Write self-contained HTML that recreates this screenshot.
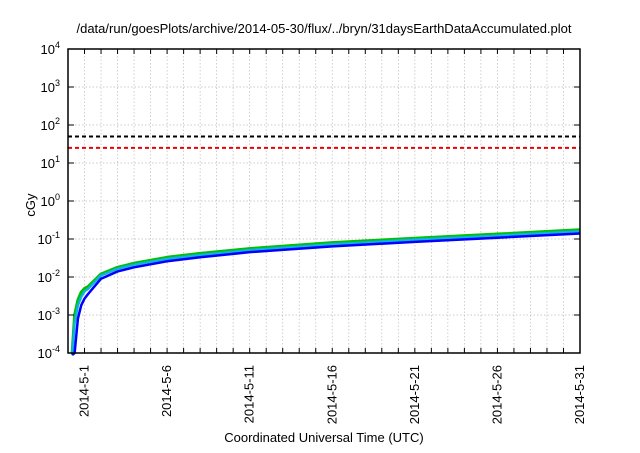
<!DOCTYPE html>
<html><head><meta charset="utf-8"><style>
body{margin:0;background:#fff;width:640px;height:448px;overflow:hidden}
text{font-family:"Liberation Sans",sans-serif;fill:#000}
</style></head><body>
<svg width="640" height="448">
<text x="324" y="33" font-size="13" text-anchor="middle">/data/run/goesPlots/archive/2014-05-30/flux/../bryn/31daysEarthDataAccumulated.plot</text>
<g id="grid"></g>
<g id="marks"></g>
<rect x="68" y="49" width="512" height="304" fill="none" stroke="#000" stroke-width="1.5"/>
<g id="axes"></g>
<text x="35" y="205" font-size="13" text-anchor="middle" transform="rotate(-90 35 205)">cGy</text>
<text x="324" y="442" font-size="13" text-anchor="middle">Coordinated Universal Time (UTC)</text>
</svg>
<script>
const days=[0.25,0.4,0.6,0.8,1,1.2,2,3,4,6,8,11,16,21,26,31];
const seriesOrange=[1.1e-4,1.1e-3,2.7e-3,4.2e-3,5.3e-3,5.8e-3,1.25e-2,1.85e-2,2.4e-2,3.4e-2,4.3e-2,5.8e-2,8.2e-2,1.08e-1,1.38e-1,1.8e-1];
const seriesGreen=[1e-4,1e-3,2.5e-3,4e-3,5e-3,5.5e-3,1.2e-2,1.8e-2,2.3e-2,3.3e-2,4.2e-2,5.6e-2,8e-2,1.05e-1,1.35e-1,1.75e-1];
const seriesCyan=[6e-5,6e-4,1.8e-3,3e-3,4.2e-3,4.8e-3,1.1e-2,1.65e-2,2.1e-2,3e-2,3.8e-2,5.1e-2,7.3e-2,9.6e-2,1.23e-1,1.6e-1];
const seriesBlue=[2e-5,1e-4,8e-4,1.8e-3,2.7e-3,3.5e-3,9e-3,1.4e-2,1.8e-2,2.6e-2,3.3e-2,4.5e-2,6.4e-2,8.4e-2,1.08e-1,1.4e-1];
const thresholds=[50,25];
const yTickExps=[-4,-3,-2,-1,0,1,2,3,4];
const xTickLabels=["2014-5-1","2014-5-6","2014-5-11","2014-5-16","2014-5-21","2014-5-26","2014-5-31"];
const xLabelDays=[1,6,11,16,21,26,31];
const NS="http://www.w3.org/2000/svg";
const L=68,R=580,T=49,B=353;
const X=d=>L+(d-0.0)*(R-L)/31;
const Y=v=>T+(4-Math.log10(v))*(B-T)/8;
function mk(tag,at,parent){const e=document.createElementNS(NS,tag);for(const k in at)e.setAttribute(k,at[k]);parent.appendChild(e);return e;}
const grid=document.getElementById('grid'),axes=document.getElementById('axes'),marks=document.getElementById('marks');
for(let d=1;d<31;d++){const g=mk('line',{x1:X(d),x2:X(d),y1:T,y2:B,stroke:'#bbb','stroke-width':0.7,'stroke-dasharray':'1.5,2'},grid);

const t=mk('line',{x1:X(d),x2:X(d),y1:B,y2:B-5,stroke:'#000','stroke-width':1},axes);

const t2=mk('line',{x1:X(d),x2:X(d),y1:T,y2:T+5,stroke:'#000','stroke-width':1},axes);
}
yTickExps.forEach(e=>{const y=Y(Math.pow(10,e));
if(e>-4&&e<4){const g=mk('line',{x1:L,x2:R,y1:y,y2:y,stroke:'#bbb','stroke-width':0.7,'stroke-dasharray':'1.5,2'},grid);
}
const t=mk('line',{x1:L,x2:L+6,y1:y,y2:y,stroke:'#000'},axes);
const t2=mk('line',{x1:R,x2:R-6,y1:y,y2:y,stroke:'#000'},axes);
const tx=mk('text',{x:60,y:y+5,'font-size':13,'text-anchor':'end'},axes);

tx.appendChild(document.createTextNode('10'));const s=mk('tspan',{dy:-6,'font-size':9},tx);s.textContent=String(e);});
xLabelDays.forEach((d,i)=>{const x=X(d)+4,y=B+12;const tx=mk('text',{x:x,y:y,'font-size':13,'text-anchor':'end',transform:`rotate(-90 ${x} ${y})`},axes);
tx.textContent=xTickLabels[i];});
const tc=['#000','#e00'];
thresholds.forEach((v,i)=>{const l=mk('line',{x1:L,x2:R,y1:Y(v),y2:Y(v),stroke:tc[i],'stroke-width':2,'stroke-dasharray':'4,3'},marks);
});
const ser=[[seriesOrange,'#e8a060',1.5,'orange-series'],[seriesGreen,'#00c000',3,'green-series'],[seriesCyan,'#10b0e0',2.5,'cyan-series'],[seriesBlue,'#0000ff',2.5,'blue-series']];
const clipB=B;
ser.forEach(([vals,c,w,n])=>{const pts=days.map((d,i)=>[X(d),Math.min(Y(vals[i]),clipB+2)]).map(p=>p.join(',')).join(' ');
const p=mk('polyline',{points:pts,fill:'none',stroke:c,'stroke-width':w,'stroke-linejoin':'round'},marks);
});
</script>
</body></html>
